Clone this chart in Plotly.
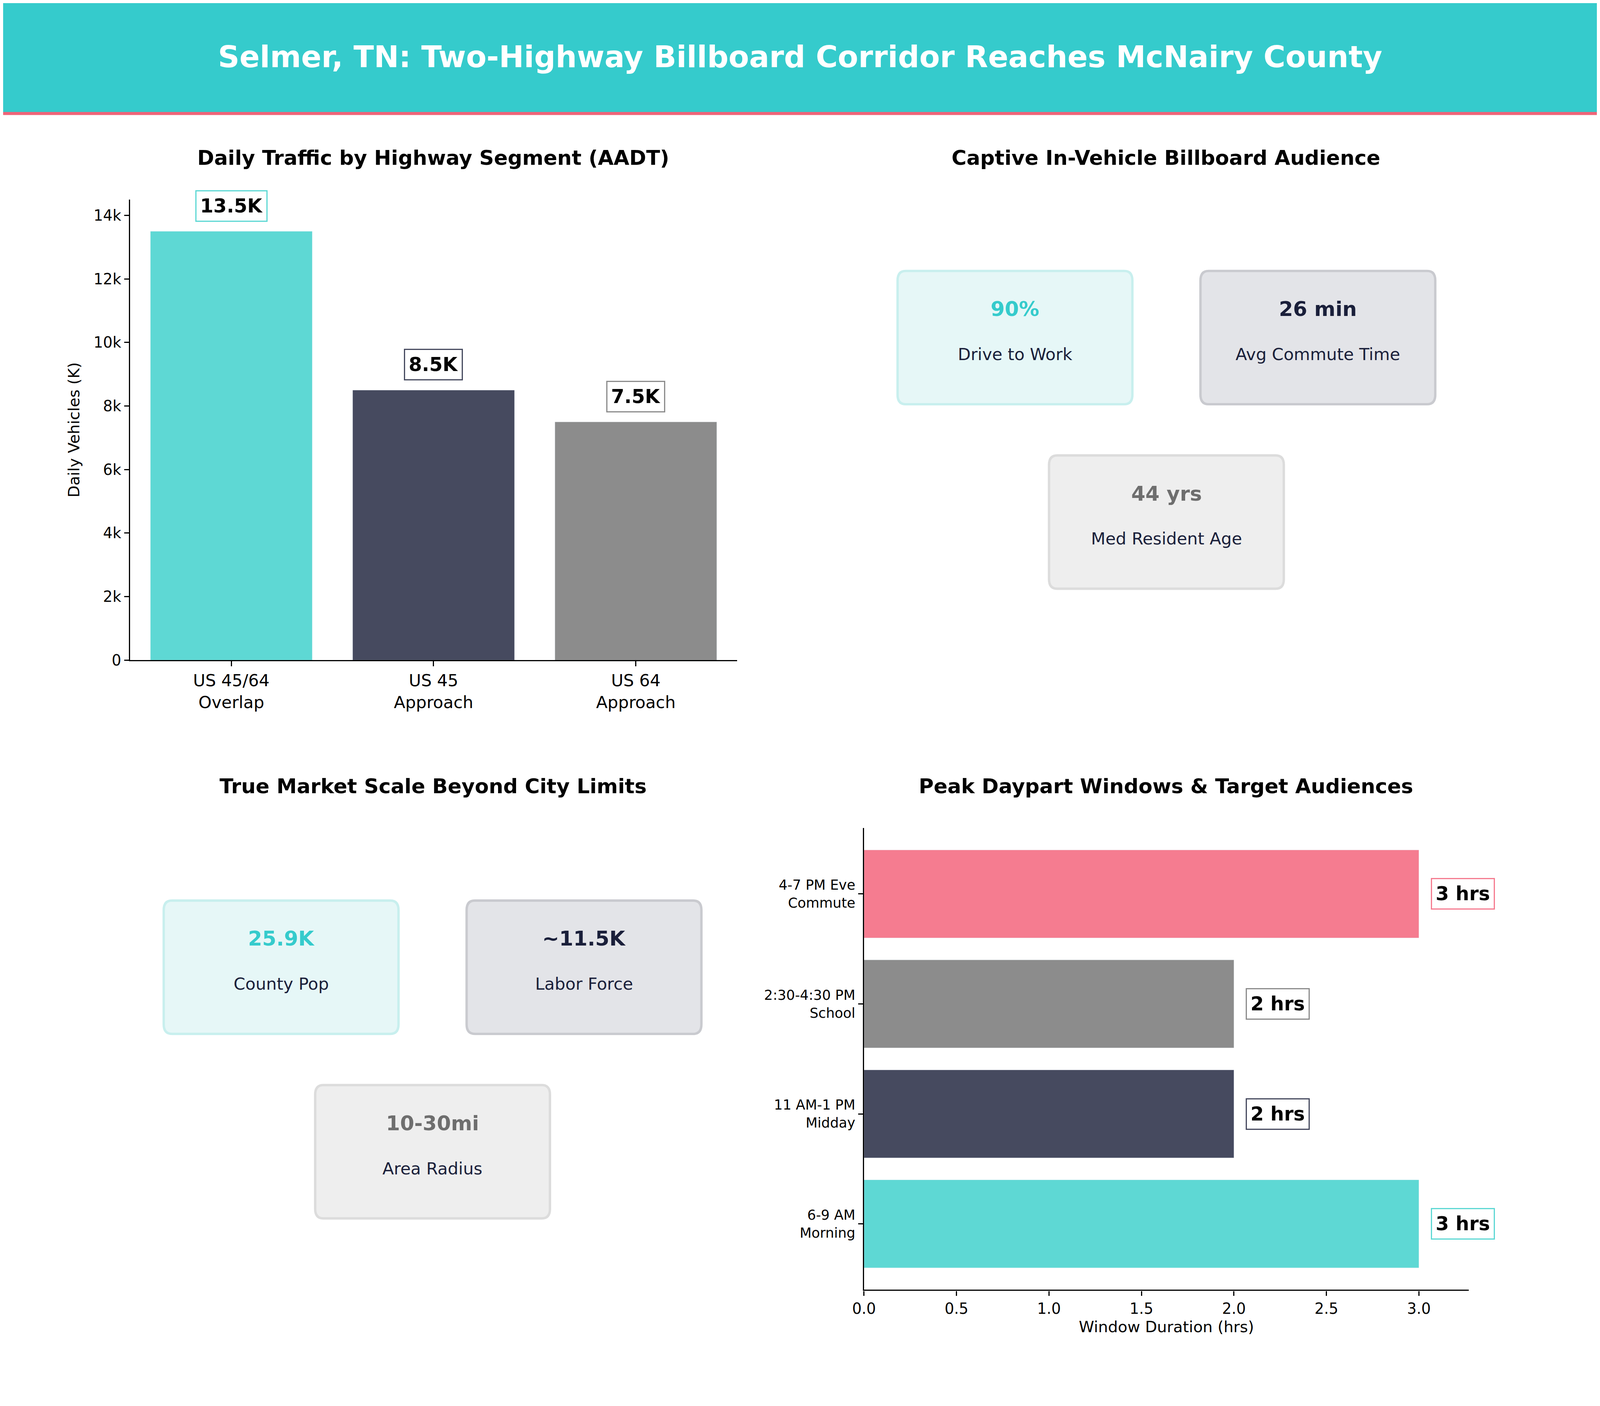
import plotly.graph_objects as go

S = 4800 / 1568.0

seg_labels = ["US 45/64<br>Overlap", "US 45<br>Approach", "US 64<br>Approach"]
seg_values = [13500, 8500, 7500]
seg_text = ["13.5K", "8.5K", "7.5K"]

day_labels = ["6-9 AM<br>Morning", "11 AM-1 PM<br>Midday", "2:30-4:30 PM<br>School", "4-7 PM Eve<br>Commute"]
day_values = [3, 2, 2, 3]
day_text = ["3 hrs", "2 hrs", "2 hrs", "3 hrs"]

aud_values = ["90%", "26 min", "44 yrs"]
aud_labels = ["Drive to Work", "Avg Commute Time", "Med Resident Age"]
mkt_values = ["25.9K", "~11.5K", "10-30mi"]
mkt_labels = ["County Pop", "Labor Force", "Area Radius"]

TEAL, DARK, GRAY, PINK = "#5ED8D4", "#464A5F", "#8C8C8C", "#F57C90"
seg_colors = [TEAL, DARK, GRAY]
day_colors = [TEAL, DARK, GRAY, PINK]
card_fill = ["#E6F7F7", "#E3E4E8", "#EEEEEE"]
card_line = ["#C8EFEE", "#C9CACF", "#DCDCDC"]
val_color = ["#35CBCC", "#1A1F3A", "#6E6E6E"]

def px(x): return x / 1568.0
def py(y): return 1 - y / 1176.0

FONT = "DejaVu Sans"
fig = go.Figure()
fig.add_trace(go.Bar(x=seg_labels, y=seg_values, marker_color=seg_colors, width=0.8,
                     xaxis="x", yaxis="y", showlegend=False))
fig.add_trace(go.Bar(y=day_labels, x=day_values, orientation="h", marker_color=day_colors, width=0.8,
                     xaxis="x2", yaxis="y2", showlegend=False))

ann = []
for i, (v, t) in enumerate(zip(seg_values, seg_text)):
    ann.append(dict(x=seg_labels[i], y=v, xref="x", yref="y", text="<b>%s</b>" % t, showarrow=False,
                    xanchor="center", yanchor="bottom", yshift=8 * S, font=dict(size=16 * S, color="black"),
                    bgcolor="white", bordercolor=seg_colors[i], borderwidth=1 * S, borderpad=3 * S))
for i, (v, t) in enumerate(zip(day_values, day_text)):
    ann.append(dict(x=v, y=day_labels[i], xref="x2", yref="y2", text="<b>%s</b>" % t, showarrow=False,
                    xanchor="left", yanchor="middle", xshift=10 * S, font=dict(size=16 * S, color="black"),
                    bgcolor="white", bordercolor=day_colors[i], borderwidth=1 * S, borderpad=3 * S))

for txt, x, y in [("Daily Traffic by Highway Segment (AADT)", 423, 130),
                  ("Captive In-Vehicle Billboard Audience", 1144, 130),
                  ("True Market Scale Beyond City Limits", 423, 658),
                  ("Peak Daypart Windows & Target Audiences", 1144, 658)]:
    ann.append(dict(x=px(x), y=py(y), xref="paper", yref="paper", text="<b>%s</b>" % txt, showarrow=False,
                    xanchor="center", yanchor="middle", font=dict(size=17 * S, color="black")))
ann.append(dict(x=0.5, y=py(45), xref="paper", yref="paper",
                text="<b>Selmer, TN: Two-Highway Billboard Corridor Reaches McNairy County</b>",
                xanchor="center", yanchor="middle", showarrow=False, font=dict(size=25 * S, color="white")))

shapes = [dict(type="rect", xref="paper", yref="paper", x0=0, x1=1, y0=py(92), y1=1,
               fillcolor="#35CBCC", line_width=0, layer="below"),
          dict(type="rect", xref="paper", yref="paper", x0=0, x1=1, y0=py(94), y1=py(91.5),
               fillcolor="#F06478", line_width=0)]

def card(x0, y0, x1, y1, fill, line):
    rx, ry = 8 / 1568.0, 8 / 1176.0
    X0, X1 = px(x0), px(x1)
    Y0, Y1 = py(y1), py(y0)
    return dict(type="path", xref="paper", yref="paper",
                path=f"M {X0+rx} {Y0} L {X1-rx} {Y0} Q {X1} {Y0} {X1} {Y0+ry} L {X1} {Y1-ry} Q {X1} {Y1} {X1-rx} {Y1} "
                     f"L {X0+rx} {Y1} Q {X0} {Y1} {X0} {Y1-ry} L {X0} {Y0+ry} Q {X0} {Y0} {X0+rx} {Y0} Z",
                fillcolor=fill, line=dict(color=line, width=2 * S), layer="below")

def cards(vals, labs, pos):
    for i, (x0, y0) in enumerate(pos):
        shapes.append(card(x0, y0, x0 + 231, y0 + 112, card_fill[i], card_line[i]))
        cx = px(x0 + 115.5)
        ann.append(dict(x=cx, y=py(y0 + 32), xref="paper", yref="paper", text="<b>%s</b>" % vals[i],
                        xanchor="center", yanchor="middle",
                        showarrow=False, font=dict(size=17 * S, color=val_color[i])))
        ann.append(dict(x=cx, y=py(y0 + 70), xref="paper", yref="paper", text=labs[i],
                        xanchor="center", yanchor="middle",
                        showarrow=False, font=dict(size=14 * S, color="#1A1F3A")))

cards(aud_values, aud_labels, [(880, 225), (1178, 225), (1029, 380)])
cards(mkt_values, mkt_labels, [(158, 754), (456, 754), (307, 909)])

def axis_style(fs):
    return dict(showline=True, linecolor="black", linewidth=1 * S, ticks="outside",
                ticklen=4 * S, tickwidth=1 * S, tickcolor="black", showgrid=False, zeroline=False,
                automargin=False, tickfont=dict(size=fs * S, color="black"))

fig.update_layout(
    autosize=True, plot_bgcolor="rgba(0,0,0,0)", paper_bgcolor="white",
    margin=dict(l=0, r=0, t=0, b=0, autoexpand=False), font=dict(family=FONT, color="black"),
    xaxis=dict(domain=[px(125), px(722)], anchor="y", **axis_style(14)),
    yaxis=dict(domain=[py(552), py(165)], anchor="x", range=[0, 14500], dtick=2000,
               title=dict(text="Daily Vehicles (K)", font=dict(size=13 * S), standoff=8 * S), **axis_style(12.5)),
    xaxis2=dict(domain=[px(847), px(1442)], anchor="y2", range=[0, 3.27], dtick=0.5, tickformat=".1f",
                title=dict(text="Window Duration (hrs)", font=dict(size=13 * S), standoff=4 * S), **axis_style(12.5)),
    yaxis2=dict(domain=[py(1081), py(693)], anchor="x2", range=[-0.6, 3.6], **axis_style(11.5)),
    annotations=ann, shapes=shapes, bargap=0.2,
)
fig.write_html("out.html", default_width="100%", default_height="100%")
